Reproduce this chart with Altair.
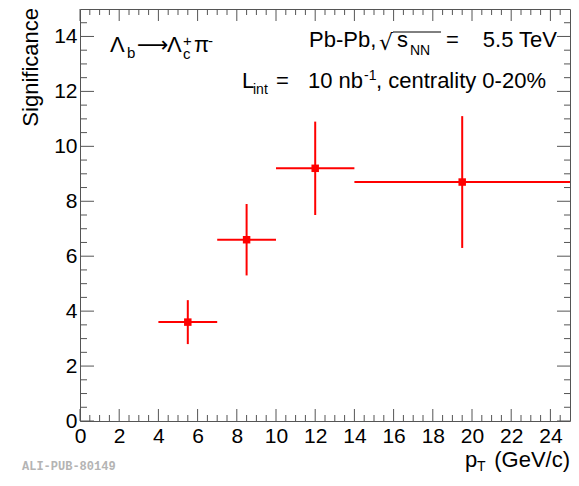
import altair as alt
import pandas as pd

# ---- data ----
pt_center = [5.5, 8.5, 12.0, 19.5]
pt_low = [4.0, 7.0, 10.0, 14.0]
pt_high = [7.0, 10.0, 14.0, 25.0]
signif = [3.6, 6.6, 9.2, 8.7]
signif_low = [2.8, 5.3, 7.5, 6.3]
signif_high = [4.4, 7.9, 10.9, 11.1]

x_major = [0, 2, 4, 6, 8, 10, 12, 14, 16, 18, 20, 22, 24]
x_minor = [v / 2 for v in range(0, 50) if v % 4 != 0]
y_major = [0, 2, 4, 6, 8, 10, 12, 14]
y_minor = [v / 2 for v in range(0, 30) if v % 4 != 0]

W, H = 490, 412
RED = "#ff0000"
FRAME = "#555555"
FONT = "Liberation Sans"

df = pd.DataFrame({
    "pt": pt_center, "ptlo": pt_low, "pthi": pt_high,
    "s": signif, "slo": signif_low, "shi": signif_high,
})

xs = alt.Scale(domain=[0, 25], nice=False, zero=False)
ys = alt.Scale(domain=[0, 15], nice=False, zero=False)

base = alt.Chart(df)

xerr = base.mark_rule(color=RED, strokeWidth=2).encode(
    x=alt.X("ptlo:Q", scale=xs,
            axis=alt.Axis(values=x_major, ticks=False, domain=False, grid=False,
                          title=None, labelFont=FONT, labelFontSize=21,
                          labelColor="black", labelPadding=4, labelFlush=False,
                          labelOverlap=False)),
    x2="pthi:Q",
    y=alt.Y("s:Q", scale=ys,
            axis=alt.Axis(values=y_major, ticks=False, domain=False, grid=False,
                          title=None, labelFont=FONT, labelFontSize=21,
                          labelColor="black", labelPadding=3, labelFlush=False,
                          labelOverlap=False)),
)
yerr = base.mark_rule(color=RED, strokeWidth=2).encode(
    x=alt.X("pt:Q", scale=xs), y=alt.Y("slo:Q", scale=ys), y2="shi:Q")
pts = base.mark_square(color=RED, size=56, opacity=1, filled=True).encode(
    x=alt.X("pt:Q", scale=xs), y=alt.Y("s:Q", scale=ys))

# ---- ticks (ROOT style, inward, mirrored) ----
def xticks(vals, length):
    d = pd.DataFrame({"v": vals})
    c = alt.Chart(d)
    bot = c.mark_rule(color=FRAME, strokeWidth=1).encode(
        x=alt.X("v:Q", scale=xs), y=alt.value(H), y2=alt.value(H - length))
    top = c.mark_rule(color=FRAME, strokeWidth=1).encode(
        x=alt.X("v:Q", scale=xs), y=alt.value(0), y2=alt.value(length))
    return [bot, top]

def yticks(vals, length_l, length_r):
    d = pd.DataFrame({"v": vals})
    c = alt.Chart(d)
    left = c.mark_rule(color=FRAME, strokeWidth=1).encode(
        y=alt.Y("v:Q", scale=ys), x=alt.value(0), x2=alt.value(length_l))
    right = c.mark_rule(color=FRAME, strokeWidth=1).encode(
        y=alt.Y("v:Q", scale=ys), x=alt.value(W), x2=alt.value(W - length_r))
    return [left, right]

tick_layers = (xticks(x_major, 12) + xticks(x_minor, 6)
               + yticks(y_major, 14, 13) + yticks(y_minor, 7, 6))

# ---- text ----
one = pd.DataFrame({"a": [0]})

def txt(s, x, y, size=22, align="left", font=FONT, color="black",
        angle=0, baseline="alphabetic", weight="normal"):
    return alt.Chart(one).mark_text(
        text=s, align=align, baseline=baseline, font=font, fontSize=size,
        color=color, angle=angle, fontWeight=weight,
    ).encode(x=alt.value(x), y=alt.value(y))

texts = [
    # Lambda_b -> Lambda_c^+ pi^-
    txt("Λ", 30, 43),
    txt("b", 47, 49, size=15),
    txt("⟶", 57, 43, font="DejaVu Sans"),
    txt("Λ", 87, 43),
    txt("c", 103, 50, size=15),
    txt("+", 103, 37, size=15),
    txt("π", 114, 43),
    txt("-", 128, 37, size=15),
    # Pb-Pb, sqrt(s_NN) = 5.5 TeV
    txt("Pb-Pb,", 229, 38),
    txt("√", 299, 41, font="DejaVu Sans"),
    txt("s", 317, 38),
    txt("NN", 330, 46, size=14),
    txt("=", 366, 38),
    txt("5.5 TeV", 477, 38, align="right"),
    # L_int = 10 nb^-1, centrality 0-20%
    txt("L", 162, 79),
    txt("int", 173, 85, size=14),
    txt("=", 196, 79),
    txt("10 nb", 283, 79, align="right"),
    txt("-1", 284, 71, size=14),
    txt(", centrality 0-20%", 296, 79),
    # axis titles
    txt("(GeV/c)", 490, 458, align="right"),
    txt("T", 397, 462, size=14),
    txt("p", 385, 458),
    txt("Significance", -42, -1, align="right", angle=270),
    # watermark
    txt("ALI-PUB-80149", -58, 461, size=12, font="Liberation Mono",
        color="#b4b4b4", weight="bold"),
]

overline = alt.Chart(one).mark_rule(color="black", strokeWidth=1).encode(
    x=alt.value(313), x2=alt.value(361), y=alt.value(23))

chart = alt.layer(xerr, yerr, pts, *tick_layers, *texts, overline).properties(
    width=W, height=H,
    autosize=alt.AutoSizeParams(type="none"),
    padding={"left": 72, "top": 1, "right": 1, "bottom": 52},
).configure_view(stroke=FRAME, strokeWidth=1)

chart.save("out.html", embed_options={"renderer": "svg", "actions": False})
